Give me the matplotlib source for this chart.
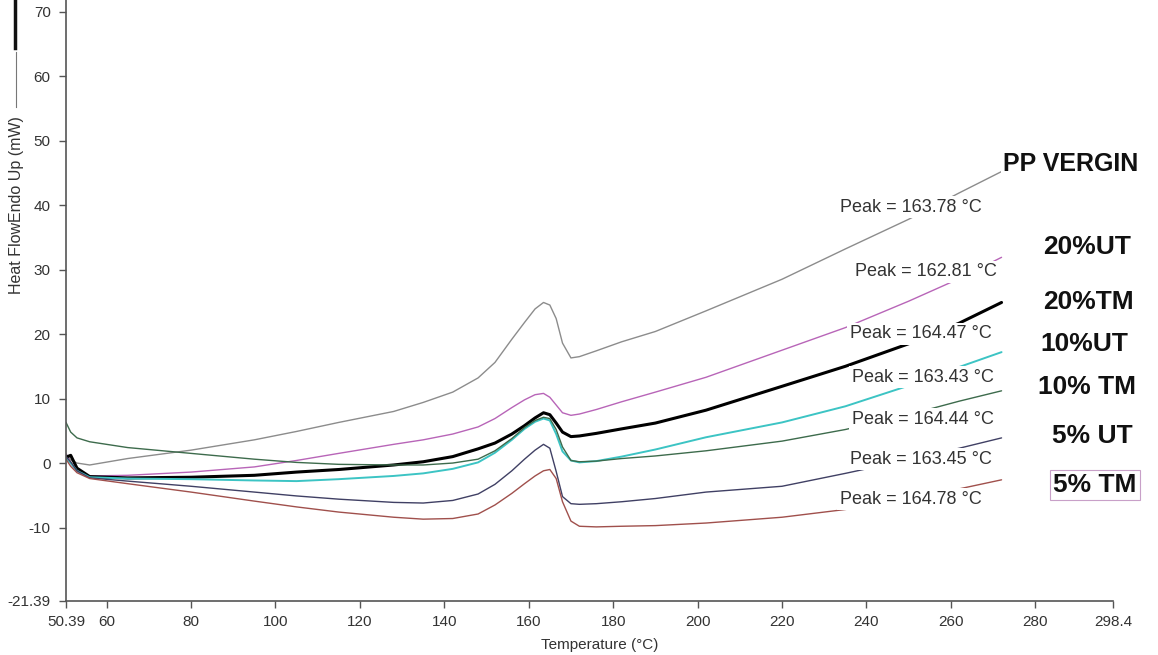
import matplotlib
matplotlib.use("Agg")
import matplotlib.pyplot as plt
from matplotlib.lines import Line2D

plt.rcParams['font.family'] = ['Liberation Sans', 'DejaVu Sans']

# temperature grid (°C)
temp = [50.39, 51.5, 53, 56, 65, 80, 95, 105, 115, 128, 135, 142, 148, 152,
        156, 159, 161.5, 163.5, 165, 166.5, 168, 170, 172, 176, 182, 190, 202,
        220, 235, 250, 262, 272]

pp_vergin = [1.4, 0.5, 0.0, -0.3, 0.7, 2.0, 3.6, 4.9, 6.3, 8.0, 9.4, 11.0,
             13.2, 15.6, 19.2, 21.8, 23.9, 24.9, 24.5, 22.4, 18.6, 16.3, 16.5,
             17.4, 18.8, 20.4, 23.6, 28.5, 33.2, 37.8, 41.9, 45.2]
ut20 = [1.4, 0.0, -1.3, -2.0, -1.9, -1.4, -0.6, 0.4, 1.5, 2.9, 3.6, 4.5, 5.6,
        6.9, 8.6, 9.8, 10.6, 10.8, 10.2, 9.0, 7.8, 7.4, 7.6, 8.3, 9.5, 11.0,
        13.3, 17.5, 21.0, 25.1, 28.6, 31.9]
tm20 = [0.9, 1.2, -0.8, -2.1, -2.3, -2.2, -1.9, -1.4, -1.0, -0.3, 0.2, 1.0,
        2.2, 3.1, 4.5, 5.8, 7.0, 7.8, 7.5, 6.2, 4.8, 4.1, 4.2, 4.6, 5.3, 6.2,
        8.2, 11.9, 15.0, 18.5, 21.7, 24.9]
ut10 = [0.8, 0.0, -1.2, -2.2, -2.4, -2.5, -2.7, -2.8, -2.5, -2.0, -1.6, -0.9,
        0.1, 1.6, 3.6, 5.3, 6.4, 6.9, 6.6, 4.5, 1.8, 0.4, 0.1, 0.3, 1.0, 2.1,
        4.0, 6.3, 8.8, 12.0, 14.9, 17.2]
tm10 = [6.3, 4.8, 3.9, 3.3, 2.4, 1.5, 0.6, 0.1, -0.2, -0.3, -0.3, 0.0, 0.6,
        1.9, 3.8, 5.5, 6.6, 7.1, 6.9, 5.2, 2.5, 0.4, 0.2, 0.3, 0.7, 1.1, 1.9,
        3.4, 5.2, 7.5, 9.6, 11.2]
ut5 = [1.0, 0.2, -1.2, -2.3, -2.8, -3.6, -4.5, -5.1, -5.6, -6.1, -6.2, -5.8,
       -4.8, -3.3, -1.2, 0.6, 2.0, 2.9, 2.3, -1.3, -5.2, -6.3, -6.4, -6.3,
       -6.0, -5.5, -4.5, -3.6, -1.6, 0.5, 2.3, 3.9]
tm5 = [0.6, -0.5, -1.5, -2.4, -3.2, -4.5, -5.9, -6.8, -7.6, -8.4, -8.7, -8.6,
       -7.9, -6.5, -4.7, -3.2, -2.0, -1.2, -1.0, -2.4, -6.0, -9.0, -9.8, -9.9,
       -9.8, -9.7, -9.3, -8.4, -7.2, -5.6, -4.0, -2.6]

series = [pp_vergin, ut20, tm20, ut10, tm10, ut5, tm5]
colores = ['#8c8c8c', '#b865b8', '#000000', '#3cc4c4', '#3d6b4c', '#404064', '#a0504c']
grosores = [1.0, 1.0, 2.2, 1.4, 1.0, 1.0, 1.0]

peak_labels = ['Peak = 163.78 °C', 'Peak = 162.81 °C', 'Peak = 164.47 °C',
               'Peak = 163.43 °C', 'Peak = 164.44 °C', 'Peak = 163.45 °C',
               'Peak = 164.78 °C']
nombres = ['PP VERGIN', '20%UT', '20%TM', '10%UT', '10% TM', '5% UT', '5% TM']

xticks = [50.39, 60, 80, 100, 120, 140, 160, 180, 200, 220, 240, 260, 280, 298.4]
xtick_labels = ['50.39', '60', '80', '100', '120', '140', '160', '180', '200',
                '220', '240', '260', '280', '298.4']
yticks = [-21.39, -10, 0, 10, 20, 30, 40, 50, 60, 70]
ytick_labels = ['-21.39', '-10', '0', '10', '20', '30', '40', '50', '60', '70']

W, H = 1158, 655


def px(x, y):
    return x / W, 1 - y / H


fig = plt.figure(figsize=(W / 100, H / 100), dpi=100)
ax = fig.add_axes([66 / W, 1 - 601 / H, (1113 - 66) / W, 601 / H])

for vals, c, lw in zip(series, colores, grosores):
    ax.plot(temp, vals, color=c, lw=lw, zorder=2,
            solid_joinstyle='round', solid_capstyle='round')

ax.set_xlim(50.39, 298.4)
ax.set_ylim(-21.39, 71.8)
ax.set_xticks(xticks)
ax.set_xticklabels(xtick_labels)
ax.set_yticks(yticks)
ax.set_yticklabels(ytick_labels)
ax.tick_params(direction='out', length=5, width=1, colors='#555555',
               labelcolor='#333333', labelsize=11)
ax.tick_params(axis='x', pad=5)
ax.tick_params(axis='y', pad=6)
for s in ['top', 'right']:
    ax.spines[s].set_visible(False)
for s in ['left', 'bottom']:
    ax.spines[s].set_color('#555555')
    ax.spines[s].set_linewidth(1.2)

# peak annotations (white boxes hide the curves behind them)
peak_pos = [(840, 207), (855, 272), (850, 334), (852, 377), (852, 419),
            (850, 459), (840, 499)]
for txt, (x, y) in zip(peak_labels, peak_pos):
    fig.text(*px(x, y), txt, fontsize=13, color='#333333', va='center',
             ha='left', zorder=5,
             bbox=dict(boxstyle='square,pad=0.15', fc='white', ec='none'))

name_pos = [(1003, 164), (1043, 247), (1043, 302), (1040, 344), (1038, 387),
            (1052, 436), (1053, 485)]
for txt, (x, y) in zip(nombres, name_pos):
    size = 19 if txt != 'PP VERGIN' else 18
    box = dict(boxstyle='square,pad=0.1', fc='white', ec='none')
    if txt == '5% TM':
        box = dict(boxstyle='square,pad=0.12', fc='white', ec='#c8a0c8', lw=0.8)
    fig.text(*px(x, y), txt, fontsize=size, fontweight='bold', color='#111111',
             va='center', ha='left', zorder=5, bbox=box)

# axis titles
fig.text(*px(600, 645), 'Temperature (°C)', fontsize=11, color='#333333',
         ha='center', va='center')
fig.text(*px(17, 205), 'Heat FlowEndo Up (mW)', fontsize=11.5, color='#333333',
         ha='center', va='center', rotation=90)
fig.add_artist(Line2D([15 / W, 15 / W], [1, 1 - 48 / H], color='#111111', lw=2.5))
fig.add_artist(Line2D([16 / W, 16 / W], [1 - 52 / H, 1 - 107 / H], color='#777777', lw=0.8))

fig.savefig('out.png', dpi=100)
print("Grafica out.png creada")
